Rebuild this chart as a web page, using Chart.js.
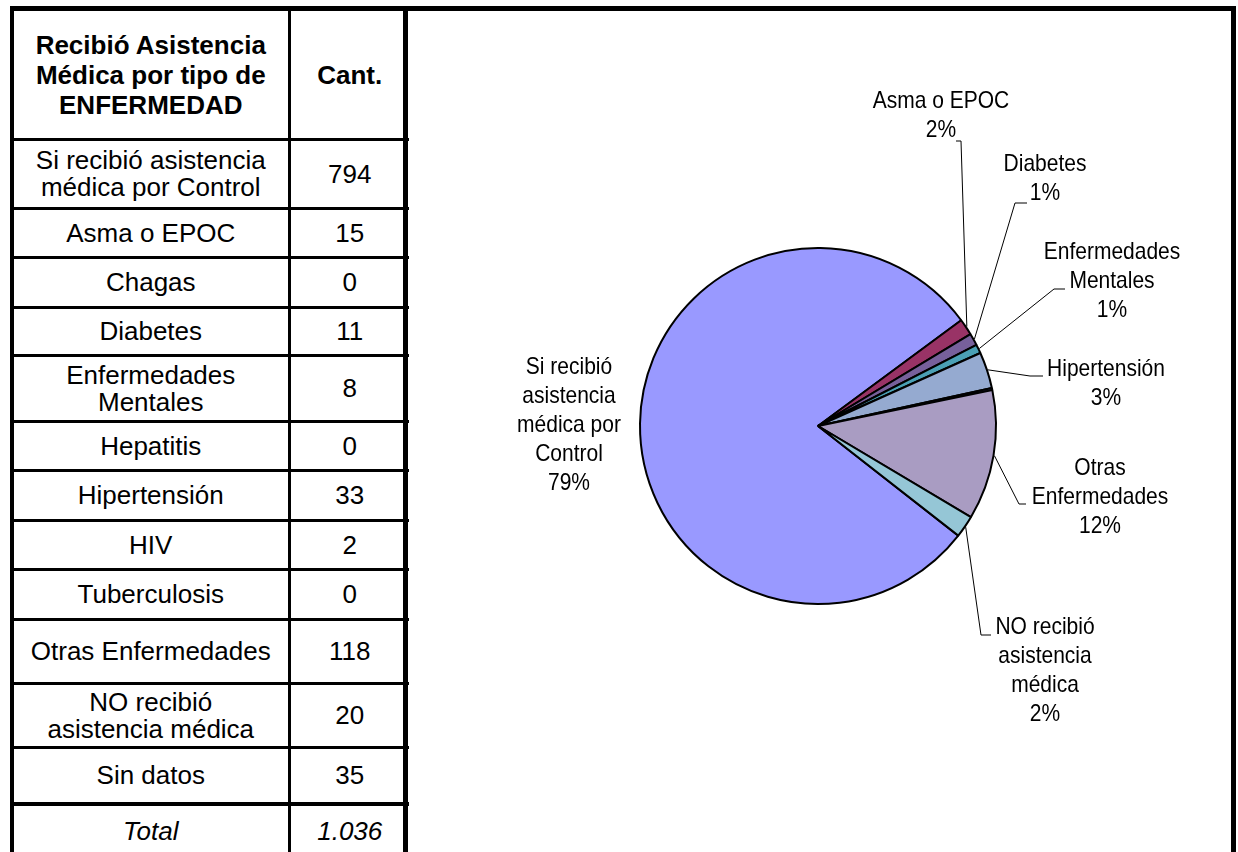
<!DOCTYPE html>
<html>
<head>
<meta charset="utf-8">
<script src="https://cdn.jsdelivr.net/npm/chart.js@4.4.1/dist/chart.umd.min.js"></script>
<style>
  html, body { margin: 0; padding: 0; background: #fff; }
  body { width: 1238px; height: 852px; position: relative; overflow: hidden; }
  #tabla {
    position: absolute; left: 10px; top: 6px;
    border-collapse: collapse; table-layout: fixed; width: 397px;
    font-family: 'Liberation Sans', Arial, sans-serif; font-size: 26px; color: #000;
  }
  #tabla td {
    border: 3px solid #000; text-align: center; vertical-align: middle;
    padding: 0 4px; line-height: 27px;
  }
  #tabla td:first-child { border-left-width: 4px; }
  #tabla td:last-child { border-right-width: 0; }
  #tabla tr:first-child td { border-top-width: 5px; font-weight: bold; line-height: 30px; }
  #tabla tr.total td { border-top-width: 4px; font-style: italic; }
  #caja {
    position: absolute; left: 403px; top: 6px; width: 833px; height: 900px;
    border: 5px solid #000; box-sizing: border-box;
  }
  #lienzo { position: absolute; left: 408px; top: 11px; width: 823px; height: 841px; }
</style>
</head>
<body>
<table id="tabla"><colgroup><col style="width:277px"><col style="width:120px"></colgroup><tbody></tbody></table>
<div id="caja"></div>
<div id="lienzo"><canvas id="torta"></canvas></div>
<script>
// datos de la tabla
var categorias = ["Si recibió asistencia médica por Control", "Asma o EPOC", "Chagas", "Diabetes",
  "Enfermedades Mentales", "Hepatitis", "Hipertensión", "HIV", "Tuberculosis",
  "Otras Enfermedades", "NO recibió asistencia médica", "Sin datos"];
var cantidades = [794, 15, 0, 11, 8, 0, 33, 2, 0, 118, 20, 35];

// cortes de linea (tabla y grafico)
var lineasTabla = {
  "Si recibió asistencia médica por Control": ["Si recibió asistencia", "médica por Control"],
  "Enfermedades Mentales": ["Enfermedades", "Mentales"],
  "NO recibió asistencia médica": ["NO recibió", "asistencia médica"]
};
var lineasGrafico = {
  "Si recibió asistencia médica por Control": ["Si recibió", "asistencia", "médica por", "Control"],
  "Enfermedades Mentales": ["Enfermedades", "Mentales"],
  "Otras Enfermedades": ["Otras", "Enfermedades"],
  "NO recibió asistencia médica": ["NO recibió", "asistencia", "médica"]
};

// la torta no incluye "Sin datos"
var catTorta = categorias.slice(0, 11);
var valTorta = cantidades.slice(0, 11);

var colores = ["#9999FF", "#993366", "#CCCCFF", "#77609B", "#4BA0B5", "#CCFFFF",
  "#95AAD0", "#3C3C6E", "#FFFFCC", "#A99CC2", "#95C6D6"];

// posicion de etiquetas respecto del centro: texto, codo y fin de la guia
var posEtiquetas = {
  0: { c: [-249, -1] },
  1: { c: [123, -310], codo: [143, -285], fin: [138, -285] },
  3: { c: [227, -247], codo: [197, -223], fin: [209, -223] },
  4: { c: [294, -145], codo: [236, -137], fin: [247, -137] },
  6: { c: [288, -42], codo: [212, -50], fin: [225, -50] },
  9: { c: [282, 71], codo: [201, 78], fin: [208, 78] },
  10: { c: [227, 245], codo: [163, 209], fin: [173, 209] }
};

// porcentajes enteros que suman 100 (resto mayor)
function porcentajes(vals) {
  var s = vals.reduce(function (a, b) { return a + b; }, 0);
  var raw = vals.map(function (v) { return v / s * 100; });
  var out = raw.map(Math.floor);
  var falta = 100 - out.reduce(function (a, b) { return a + b; }, 0);
  var orden = raw.map(function (r, i) { return i; })
    .sort(function (a, b) { return (raw[b] - out[b]) - (raw[a] - out[a]); });
  for (var k = 0; k < falta; k++) out[orden[k]]++;
  return out;
}
var pctTorta = porcentajes(valTorta);

// tabla
function miles(n) { return String(n).replace(/\B(?=(\d{3})+(?!\d))/g, '.'); }
var altos = [131, 69, 49, 50, 48, 66, 49, 50, 49, 50, 64, 64, 56, 56];
var tb = document.querySelector('#tabla tbody');
var html = '<tr style="height:' + altos[0] + 'px"><td>Recibió Asistencia<br>Médica por tipo de<br>ENFERMEDAD</td><td>Cant.</td></tr>';
categorias.forEach(function (c, i) {
  var txt = (lineasTabla[c] || [c]).join('<br>');
  html += '<tr style="height:' + altos[i + 1] + 'px"><td>' + txt + '</td><td>' + cantidades[i] + '</td></tr>';
});
var total = cantidades.reduce(function (a, b) { return a + b; }, 0);
html += '<tr class="total" style="height:' + altos[13] + 'px"><td>Total</td><td>' + miles(total) + '</td></tr>';
tb.innerHTML = html;

// etiquetas con guias
var etiquetas = {
  id: 'etiquetas',
  afterDatasetsDraw: function (chart) {
    var ctx = chart.ctx;
    var meta = chart.getDatasetMeta(0);
    ctx.save();
    meta.data.forEach(function (arc, i) {
      var pct = pctTorta[i];
      var pos = posEtiquetas[i];
      if (!pct || !pos) return;
      var p = arc.getProps(['x', 'y', 'startAngle', 'endAngle', 'outerRadius'], true);
      var a = (p.startAngle + p.endAngle) / 2;
      if (pos.codo) {
        ctx.strokeStyle = '#000';
        ctx.lineWidth = 1;
        ctx.beginPath();
        ctx.moveTo(p.x + Math.cos(a) * (p.outerRadius + 1), p.y + Math.sin(a) * (p.outerRadius + 1));
        ctx.lineTo(p.x + pos.codo[0], p.y + pos.codo[1]);
        ctx.lineTo(p.x + pos.fin[0], p.y + pos.fin[1]);
        ctx.stroke();
      }
      var lineas = (lineasGrafico[catTorta[i]] || [catTorta[i]]).concat([pct + '%']);
      ctx.fillStyle = '#000';
      ctx.font = '24px "Liberation Sans", Arial, sans-serif';
      ctx.textAlign = 'center';
      ctx.textBaseline = 'middle';
      var lh = 29;
      lineas.forEach(function (t, k) {
        ctx.save();
        ctx.translate(p.x + pos.c[0], p.y + pos.c[1] + (k - (lineas.length - 1) / 2) * lh);
        ctx.scale(0.875, 1);
        ctx.fillText(t, 0, 0);
        ctx.restore();
      });
    });
    ctx.restore();
  }
};

var ctx = document.getElementById('torta').getContext('2d');
var torta = new Chart(ctx, {
  type: 'pie',
  data: {
    labels: catTorta,
    datasets: [{
      data: valTorta,
      backgroundColor: colores,
      borderColor: '#000',
      borderWidth: 2,
      radius: 178,
      rotation: 128
    }]
  },
  options: {
    responsive: true,
    maintainAspectRatio: false,
    animation: false,
    layout: { padding: { left: 0, right: 3, top: 0, bottom: 11 } },
    plugins: { legend: { display: false }, tooltip: { enabled: false } }
  },
  plugins: [etiquetas]
});
</script>
</body>
</html>
